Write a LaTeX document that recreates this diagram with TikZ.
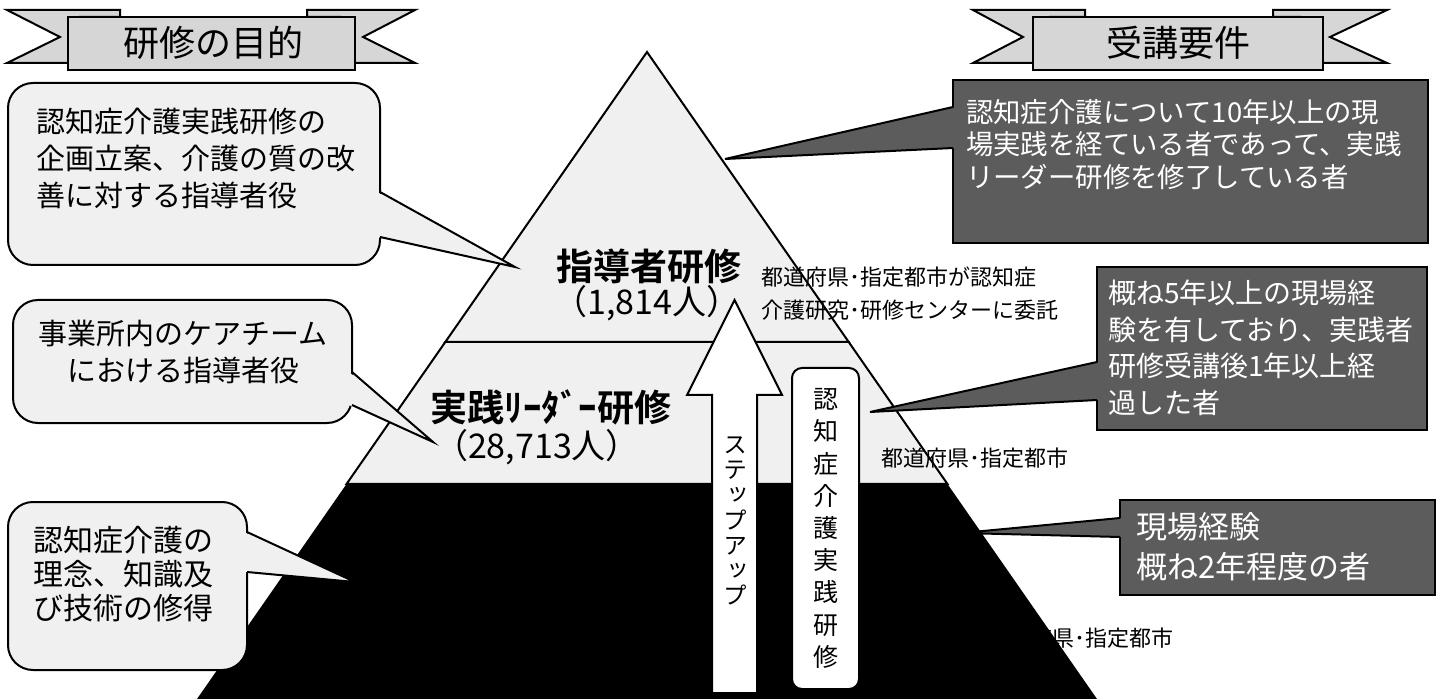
\documentclass[tikz,border=0pt]{standalone}
\usepackage{fontspec}
\setmainfont{Noto Sans CJK JP}[BoldFont={Noto Sans CJK JP Bold}]
\newfontfamily\jpv{Noto Sans CJK JP}[RawFeature=+vert]
\usetikzlibrary{calc,fit}
\newcommand\jfs[2]{\fontsize{#1}{#2}\selectfont}
\definecolor{lite}{gray}{0.94}
\definecolor{bandfill}{gray}{0.84}
\definecolor{darkfill}{gray}{0.36}
\tikzset{
  txt/.style={inner sep=0pt},
  callbox/.style={draw, fill=lite, rounded corners=12.5pt, inner sep=0pt},
  darkbox/.style={draw, fill=darkfill, inner sep=0pt},
  bandbox/.style={draw, fill=bandfill, inner sep=0pt},
  bandtail/.style={draw, fill=bandfill},
  layer/.style={draw, fill=lite},
  whitetxt/.style={inner sep=0pt, text=white},
}
\begin{document}
\begin{tikzpicture}[x=0.5pt,y=-0.5pt,line width=1pt]
\useasboundingbox (0,0) rectangle (1443,699);

% ---------- banners ----------
\path[bandtail] (120,17) -- (120,10) -- (7,10) -- (60,37) -- (7,63) -- (80,63) -- (80,17) -- cycle;
\path[bandtail] (307,17) -- (307,10) -- (415,10) -- (363,37) -- (415,63) -- (340,63) -- (340,17) -- cycle;
\node[bandbox, fit={(68,17)(355,70)}] (purposebox) {};
\node[txt, font=\jfs{18}{20}] (purpose) at (213.5,43) {研修の目的};

\path[bandtail] (1085,17) -- (1085,10) -- (973,10) -- (1023,37) -- (973,63) -- (1050,63) -- (1050,17) -- cycle;
\path[bandtail] (1273,17) -- (1273,10) -- (1387,10) -- (1330,37) -- (1387,63) -- (1300,63) -- (1300,17) -- cycle;
\node[bandbox, fit={(1033,17)(1323,70)}] (reqbox) {};
\node[txt, font=\jfs{18}{20}] (req) at (1178,43) {受講要件};

% ---------- pyramid ----------
\coordinate (apex) at (647,52);
\coordinate (bl) at (197,699);
\coordinate (br) at (1097,699);
\coordinate (l1) at ($(apex)!0.4482!(bl)$);
\coordinate (r1) at ($(apex)!0.4482!(br)$);
\coordinate (l2) at ($(apex)!0.6677!(bl)$);
\coordinate (r2) at ($(apex)!0.6677!(br)$);
\fill[black] (l2) -- (r2) -- (br) -- (bl) -- cycle;
\path[layer] (l1) -- (r1) -- (r2) -- (l2) -- cycle;
\path[layer] (apex) -- (l1) -- (r1) -- cycle;

\node[txt, font=\bfseries\jfs{18.5}{20}] (lead) at (649,267) {指導者研修};
\node[txt, font=\jfs{17}{20}] (leadn) at (647,303) {（1,814人）};
\node[txt, font=\bfseries\jfs{18.5}{20}] (leader) at (551,407) {実践ﾘｰﾀﾞｰ研修};
\node[txt, font=\jfs{17}{20}] (leadern) at (537,447) {（28,713人）};

% ---------- step up arrow ----------
\draw[fill=white] (712,693) -- (712,395) -- (687,395) -- (734.5,300) -- (782,395) -- (757,395) -- (757,693) -- cycle;
\node[txt, align=center, font=\jpv\jfs{12}{12.6}] (stepup) at (735,521) {ス\\テ\\ッ\\プ\\ア\\ッ\\プ};

\node[draw, fill=white, rounded corners=5pt, inner sep=0pt, fit={(792,368)(859,689)}] (vbox) {};
\node[txt, align=center, font=\jfs{12.5}{16.1}] (vtxt) at (vbox.center) {認\\知\\症\\介\\護\\実\\践\\研\\修};

% ---------- side notes ----------
\node[txt, anchor=west, align=left, font=\jfs{11}{16.5}] (org1) at (760,293.5) {都道府県･指定都市が認知症\\介護研究･研修センターに委託};
\node[txt, anchor=west, font=\jfs{11}{13}] (org2) at (880,458) {都道府県･指定都市};
\node[txt, anchor=west, font=\jfs{11}{13}] (org3) at (985,638) {都道府県･指定都市};

% ---------- left callouts ----------
\node[callbox, fit={(8,83)(380,265)}] (c1) {};
\coordinate (c1tip) at (515,267);
\fill[lite] (377,192) -- (c1tip) -- (377,237) -- cycle;
\draw (380,192) -- (c1tip) -- (380,237);
\node[txt, anchor=north west, align=left, font=\jfs{14.5}{18.5}] (c1t) at (35,107) {認知症介護実践研修の\\企画立案、介護の質の改\\善に対する指導者役};

\node[callbox, fit={(13,300)(352,423)}] (c2) {};
\coordinate (c2tip) at (433,442);
\fill[lite] (349,372) -- (c2tip) -- (349,405) -- cycle;
\draw (352,372) -- (c2tip) -- (352,405);
\node[txt, align=center, font=\jfs{14.5}{18.5}] (c2t) at (183,351.5) {事業所内のケアチーム\\における指導者役};

\node[callbox, fit={(8,502)(247,670)}] (c3) {};
\coordinate (c3tip) at (355,582);
\fill[lite] (244,532) -- (c3tip) -- (244,572) -- cycle;
\draw (247,532) -- (c3tip) -- (247,572);
\node[txt, anchor=north west, align=left, font=\jfs{15}{17}] (c3t) at (32,525) {認知症介護の\\理念、知識及\\び技術の修得};

% ---------- right requirement boxes ----------
\node[darkbox, fit={(953,80)(1428,243)}] (r1box) {};
\coordinate (r1tip) at (725,159);
\fill[darkfill] (956,107) -- (r1tip) -- (956,148) -- cycle;
\draw (953,107) -- (r1tip) -- (953,148);
\node[whitetxt, anchor=north west, align=left, font=\jfs{13.7}{16.3}] (r1t) at (965,98) {認知症介護について10年以上の現\\場実践を経ている者であって、実践\\リーダー研修を修了している者};

\node[darkbox, fit={(1097,267)(1427,430)}] (r2box) {};
\coordinate (r2tip) at (870,412);
\fill[darkfill] (1100,362) -- (r2tip) -- (1100,400) -- cycle;
\draw (1097,362) -- (r2tip) -- (1097,400);
\node[whitetxt, anchor=north west, align=left, font=\jfs{14}{18.3}] (r2t) at (1107,279) {概ね5年以上の現場経\\験を有しており、実践者\\研修受講後1年以上経\\過した者};

\node[darkbox, fit={(1120,500)(1435,595)}] (r3box) {};
\coordinate (r3tip) at (962,533);
\fill[darkfill] (1123,518) -- (r3tip) -- (1123,537) -- cycle;
\draw (1120,518) -- (r3tip) -- (1120,537);
\node[whitetxt, anchor=north west, align=left, font=\jfs{15.5}{20}] (r3t) at (1135,511.5) {現場経験\\概ね2年程度の者};
\end{tikzpicture}
\end{document}
